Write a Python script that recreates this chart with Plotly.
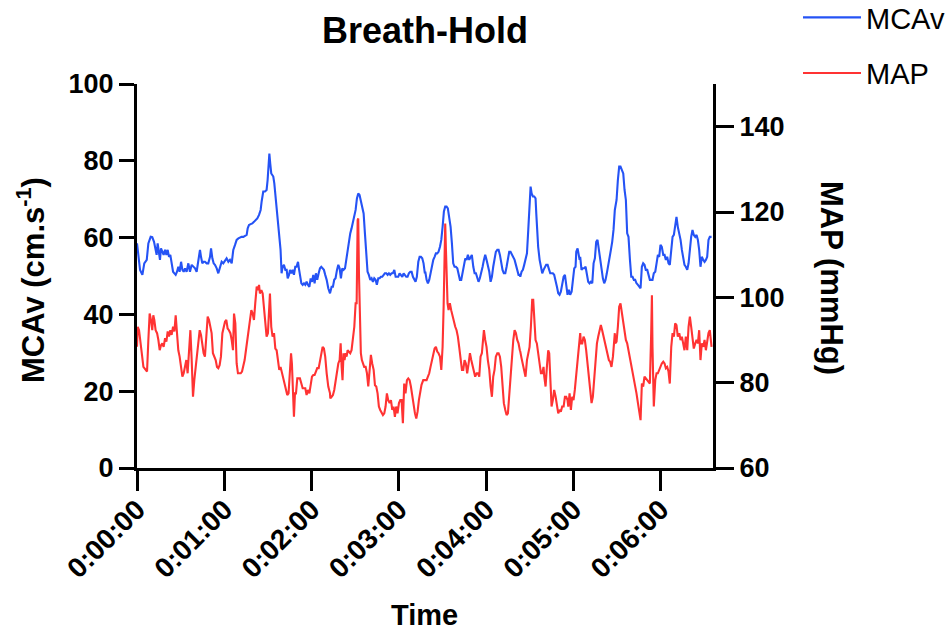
import plotly.graph_objects as go

# ---- data (time in seconds) ----
mcav_time = [0, 0.9, 2.1, 3.7, 5.0, 6.7, 7.8, 9.4, 10.5, 11.7, 12.8, 13.5, 14.2, 15.1, 15.8, 16.5, 17.4, 18.3, 19.3, 20.2,
             21.1, 22.0, 22.9, 23.8, 24.8, 25.7, 26.6, 27.5, 28.4, 29.3, 30.3, 31.2, 32.1, 33.0, 34.1, 35.3, 36.4, 37.6, 38.7, 39.9,
             41.0, 42.2, 43.3, 44.0, 44.9, 45.8, 46.7, 47.9, 49.0, 50.2, 50.9, 51.8, 52.7, 53.6, 54.8, 55.9, 57.1, 58.2, 59.3, 60.5,
             61.6, 62.8, 63.9, 65.1, 66.2, 67.4, 68.5, 69.7, 70.8, 71.9, 73.1, 74.2, 75.4, 76.1, 77.0, 78.1, 79.3, 80.4, 81.6, 82.7,
             83.9, 85.0, 85.7, 86.8, 88.0, 89.1, 89.8, 90.5, 91.0, 91.6, 92.3, 93.0, 93.7, 94.4, 95.1, 96.0, 96.9, 97.8, 98.7, 99.4,
             100.1, 101.0, 102.0, 102.9, 103.6, 104.5, 105.2, 106.1, 107.0, 107.9, 108.8, 109.7, 110.7, 111.3, 112.0, 113.0, 113.9, 114.8, 115.7, 116.6,
             117.5, 118.5, 119.4, 120.3, 121.2, 122.1, 123.0, 123.9, 124.9, 125.8, 126.7, 127.6, 128.5, 129.4, 130.4, 131.5, 132.7, 133.8, 134.7, 135.6,
             136.5, 137.5, 138.4, 139.3, 140.2, 141.1, 142.0, 143.0, 143.9, 144.8, 145.7, 146.6, 147.5, 148.4, 149.4, 150.3, 151.2, 152.1, 153.0, 153.9,
             154.9, 155.8, 156.7, 157.6, 158.5, 159.4, 160.4, 161.3, 162.2, 163.1, 164.0, 164.9, 165.9, 166.8, 167.7, 168.6, 169.5, 170.4, 171.4, 172.3,
             173.2, 174.1, 175.0, 175.9, 176.9, 177.8, 178.7, 179.6, 180.5, 181.4, 182.4, 183.3, 184.2, 185.1, 186.0, 186.9, 187.9, 188.8, 189.7, 190.6,
             191.5, 192.4, 193.4, 194.3, 195.2, 196.1, 197.0, 197.9, 198.2, 199.1, 200.0, 200.9, 201.8, 202.8, 203.7, 204.6, 205.5, 206.4, 207.3, 208.3,
             209.2, 210.1, 211.0, 211.9, 212.8, 213.7, 214.7, 215.6, 216.5, 217.4, 218.3, 219.2, 220.2, 221.1, 222.0, 222.9, 223.8, 224.7, 225.7, 226.6,
             227.5, 228.4, 229.3, 230.2, 231.2, 232.1, 233.0, 233.9, 234.8, 235.7, 236.7, 237.6, 238.5, 239.4, 240.3, 241.2, 242.2, 243.1, 244.0, 244.9,
             245.8, 246.7, 247.7, 248.6, 249.5, 250.4, 251.3, 252.2, 253.2, 254.1, 255.0, 255.9, 256.8, 257.7, 258.7, 259.6, 260.5, 261.4, 262.3, 263.2,
             263.5, 264.4, 265.3, 266.2, 267.1, 268.1, 269.0, 269.9, 270.6, 271.3, 272.2, 273.1, 274.0, 274.5, 274.9, 275.8, 276.8, 277.7, 278.6, 279.5,
             280.4, 281.3, 282.3, 283.2, 284.1, 285.0, 285.9, 286.8, 287.8, 288.7, 289.6, 290.5, 291.4, 292.3, 293.3, 294.2, 295.1, 296.0, 296.9, 297.8,
             298.8, 299.7, 300.6, 301.5, 302.0, 302.9, 303.8, 304.3, 304.7, 305.6, 306.5, 307.5, 308.4, 309.3, 310.2, 311.1, 312.0, 313.0, 313.9, 314.8,
             315.7, 316.6, 317.5, 318.5, 319.4, 320.3, 321.2, 322.1, 323.0, 324.0, 324.9, 325.8, 326.7, 327.6, 328.5, 329.7, 330.6, 331.5, 332.4, 333.4,
             334.3, 335.2, 336.1, 337.0, 337.9, 338.9, 339.8, 340.7, 341.6, 342.5, 343.4, 344.4, 345.3, 346.2, 347.1, 348.0, 348.9, 349.8, 350.8, 351.7,
             352.6, 353.5, 354.4, 355.3, 356.3, 357.2, 358.1, 359.0, 359.9, 360.8, 361.8, 362.7, 363.6, 364.5, 365.4, 366.3, 367.3, 368.2, 369.1, 370.0,
             370.9, 371.8, 372.8, 373.7, 374.6, 375.5, 376.4, 377.3, 378.3, 379.2, 380.1, 381.0, 381.9, 382.8, 383.8, 384.7, 385.6, 386.5, 387.4, 388.3,
             389.3, 390.2, 391.1, 392.0, 392.9, 393.8, 395.0]
mcav_values = [58.5, 55.9, 51.6, 50.3, 53.3, 54.2, 58.5, 60.2, 60.1, 58.9, 56.8, 55.5, 58.5, 55.9, 54.2, 57.2, 56.3, 55.5, 56.8, 55.5,
               56.8, 55.0, 55.5, 52.9, 51.1, 50.7, 50.3, 51.1, 52.4, 51.1, 53.7, 51.6, 51.1, 52.0, 51.1, 53.3, 51.1, 52.9, 52.4, 52.0,
               51.1, 54.2, 56.8, 55.0, 53.3, 53.7, 53.7, 53.3, 53.3, 55.0, 57.2, 54.6, 53.3, 52.9, 52.0, 50.7, 52.4, 53.7, 53.3, 54.2,
               54.6, 53.7, 54.2, 53.3, 56.8, 58.1, 59.4, 59.8, 60.0, 60.2, 60.2, 60.4, 60.7, 62.4, 63.3, 63.5, 63.7, 64.1, 64.6, 65.0,
               65.9, 67.2, 69.4, 72.0, 72.0, 72.4, 75.0, 79.3, 81.9, 79.3, 76.7, 76.3, 75.9, 74.1, 71.5, 67.6, 64.6, 60.7, 56.8, 50.7,
               52.4, 52.9, 51.6, 51.6, 49.4, 50.3, 51.6, 50.7, 51.6, 50.3, 52.4, 52.4, 53.7, 52.0, 50.7, 48.1, 47.7, 48.1, 47.7, 48.5,
               47.7, 47.2, 49.4, 48.5, 50.3, 48.1, 50.7, 49.0, 50.7, 52.0, 52.4, 52.0, 51.6, 50.3, 49.0, 46.8, 45.5, 47.2, 47.2, 49.0,
               49.4, 51.6, 52.9, 52.0, 49.4, 52.0, 51.6, 52.0, 54.2, 56.8, 59.4, 61.1, 62.4, 64.1, 65.4, 67.2, 70.2, 71.5, 71.1, 69.4,
               68.1, 66.3, 61.1, 55.0, 51.1, 50.3, 49.0, 49.4, 48.5, 49.4, 49.0, 47.7, 49.4, 49.4, 49.8, 49.8, 50.3, 50.7, 50.7, 50.3,
               50.7, 50.3, 50.7, 50.7, 51.6, 49.8, 49.8, 49.8, 50.7, 50.3, 49.8, 50.7, 50.3, 49.8, 49.8, 50.7, 51.1, 51.1, 49.8, 49.0,
               48.5, 49.8, 53.7, 55.0, 55.0, 54.6, 53.3, 50.7, 51.1, 49.0, 48.1, 49.0, 50.7, 53.3, 54.2, 55.0, 55.9, 55.9, 56.3, 57.6,
               59.4, 62.8, 66.8, 68.1, 68.1, 67.6, 64.6, 62.8, 58.5, 53.3, 52.4, 52.4, 52.0, 50.7, 49.0, 49.0, 50.7, 52.9, 54.6, 54.2,
               55.5, 54.2, 55.0, 55.5, 52.4, 50.7, 50.7, 49.8, 48.5, 49.4, 50.7, 52.4, 54.2, 55.5, 54.2, 52.9, 51.1, 48.5, 49.8, 52.4,
               55.0, 56.3, 56.8, 56.8, 55.5, 53.3, 51.6, 50.7, 50.7, 52.4, 55.0, 56.3, 56.3, 55.5, 55.0, 54.2, 52.9, 51.1, 50.3, 50.3,
               49.8, 51.1, 51.6, 52.9, 54.2, 55.9, 62.0, 69.8, 73.3, 71.5, 70.7, 70.7, 70.2, 66.3, 62.8, 57.6, 54.2, 52.4, 50.7, 51.6,
               52.4, 52.9, 52.9, 52.0, 50.7, 50.7, 50.7, 50.3, 49.0, 47.2, 45.5, 45.1, 45.9, 48.1, 49.8, 50.3, 48.1, 45.1, 46.4, 45.1,
               45.9, 49.0, 52.0, 52.4, 56.3, 57.2, 55.0, 54.2, 55.0, 51.6, 52.0, 52.0, 52.4, 49.8, 48.5, 48.1, 48.5, 48.1, 53.3, 54.6,
               58.9, 59.4, 56.8, 54.2, 52.4, 49.4, 48.1, 49.0, 50.7, 53.3, 55.0, 56.8, 58.9, 62.0, 67.2, 69.8, 75.0, 78.5, 78.5, 77.6,
               76.7, 72.4, 69.8, 61.1, 60.2, 54.2, 49.8, 49.8, 49.0, 49.0, 48.1, 47.7, 47.2, 46.8, 52.4, 53.3, 52.9, 51.6, 51.6, 49.8,
               49.0, 49.0, 49.0, 50.7, 51.1, 53.3, 55.5, 55.0, 58.1, 57.6, 55.5, 55.5, 54.2, 55.0, 53.3, 52.9, 57.6, 60.2, 60.7, 62.8,
               65.4, 62.8, 61.1, 59.4, 56.8, 54.2, 52.9, 52.4, 51.6, 53.3, 57.6, 60.2, 62.0, 60.7, 60.2, 60.7, 59.4, 56.8, 52.4, 55.0,
               54.2, 53.7, 54.2, 55.0, 59.4, 60.2, 60.2]

map_time = [0, 0.5, 1.4, 2.8, 4.4, 6.0, 6.9, 7.8, 8.7, 9.6, 10.5, 11.2, 11.9, 12.8, 13.8, 14.7, 15.6, 16.5, 17.4, 18.3,
            19.3, 20.2, 21.1, 22.0, 22.9, 23.8, 24.8, 25.7, 26.6, 27.5, 28.4, 29.3, 30.3, 31.2, 32.1, 33.0, 33.9, 34.8, 35.7, 36.7,
            37.6, 38.5, 39.4, 40.3, 41.2, 42.2, 43.1, 44.0, 44.9, 45.8, 46.7, 47.7, 48.6, 49.5, 50.4, 51.3, 52.2, 53.2, 54.1, 55.0,
            55.9, 56.8, 57.7, 58.7, 59.6, 60.5, 61.4, 62.3, 63.2, 64.2, 65.1, 66.0, 66.7, 67.6, 68.5, 69.4, 70.3, 71.3, 72.2, 73.1,
            74.0, 74.9, 75.8, 76.8, 77.7, 78.6, 79.5, 80.4, 81.3, 82.3, 83.2, 83.9, 84.5, 85.5, 86.4, 87.3, 88.2, 89.1, 90.0, 91.0,
            91.4, 92.3, 93.2, 94.2, 95.1, 96.0, 96.9, 97.8, 98.7, 99.7, 100.6, 101.5, 102.4, 103.3, 104.2, 105.2, 105.9, 106.5, 107.2, 107.9,
            108.6, 109.3, 110.2, 111.1, 112.0, 113.0, 113.9, 114.8, 115.7, 116.6, 117.5, 118.5, 119.4, 120.3, 121.2, 122.1, 123.0, 123.9, 124.9, 125.8,
            126.7, 127.6, 128.5, 129.4, 130.4, 131.5, 132.7, 132.9, 133.8, 134.7, 135.6, 136.5, 137.5, 138.4, 139.3, 140.0, 140.7, 141.3, 142.0, 142.7,
            143.4, 144.1, 144.8, 145.7, 146.6, 147.5, 148.4, 149.4, 150.3, 151.0, 151.7, 152.1, 152.6, 153.3, 153.9, 154.6, 155.3, 156.2, 157.2, 158.1,
            159.0, 159.9, 160.8, 161.7, 162.7, 163.6, 164.5, 165.4, 166.3, 167.2, 168.2, 169.1, 170.0, 170.9, 171.8, 172.7, 173.7, 174.6, 175.5, 176.4,
            177.3, 178.2, 179.1, 180.1, 181.0, 181.9, 182.8, 183.7, 184.6, 185.6, 186.5, 187.4, 188.3, 189.2, 190.1, 191.1, 192.0, 192.9, 193.8, 194.7,
            195.6, 196.8, 197.9, 198.2, 199.1, 200.0, 200.9, 201.8, 202.8, 203.7, 204.6, 205.5, 206.4, 207.3, 208.3, 209.2, 210.1, 210.8, 211.5, 211.9,
            212.4, 212.8, 213.5, 214.2, 215.1, 216.0, 217.0, 217.9, 218.8, 219.7, 220.6, 221.5, 222.5, 223.4, 224.3, 225.2, 226.1, 227.0, 228.0, 228.9,
            229.8, 230.7, 231.6, 232.5, 233.5, 234.4, 235.3, 236.2, 237.1, 237.6, 238.5, 239.4, 240.3, 241.2, 242.2, 243.1, 244.0, 244.9, 245.8, 246.7,
            247.7, 248.6, 249.5, 250.4, 251.3, 252.2, 253.2, 254.1, 255.0, 255.9, 256.8, 257.7, 258.7, 259.6, 260.5, 261.4, 262.3, 263.2, 263.5, 264.4,
            265.3, 266.2, 267.1, 268.1, 269.0, 269.9, 270.8, 271.7, 272.4, 273.1, 274.0, 274.9, 275.8, 276.8, 277.7, 278.6, 279.5, 280.0, 280.9, 281.8,
            282.7, 283.4, 284.1, 285.0, 285.9, 286.8, 287.8, 288.7, 289.6, 290.5, 291.4, 292.3, 293.3, 294.2, 295.1, 296.0, 296.5, 297.4, 298.3, 299.2,
            300.1, 301.0, 302.0, 302.9, 303.8, 304.7, 305.2, 306.1, 307.0, 307.9, 308.8, 309.7, 310.7, 311.6, 312.5, 313.4, 314.3, 315.2, 316.2, 317.1,
            318.0, 318.9, 319.8, 320.7, 321.7, 322.6, 323.5, 324.4, 325.3, 326.2, 327.2, 328.1, 328.5, 328.8, 329.7, 330.6, 331.5, 332.4, 333.4, 334.3,
            335.2, 336.1, 337.0, 337.9, 338.9, 339.8, 340.7, 341.6, 342.5, 343.4, 344.4, 345.3, 346.2, 347.1, 348.0, 348.9, 349.8, 350.8, 351.7, 352.6,
            353.5, 354.0, 354.4, 355.3, 356.3, 357.2, 358.1, 359.0, 359.9, 360.8, 361.8, 362.7, 363.6, 364.5, 365.4, 366.3, 367.3, 368.2, 369.1, 370.0,
            370.9, 371.8, 372.8, 373.7, 374.6, 375.5, 376.4, 377.3, 378.3, 379.2, 380.1, 381.0, 381.9, 382.8, 383.8, 384.7, 385.6, 386.5, 387.4, 388.3,
            389.3, 390.2, 391.1, 392.0, 392.9, 393.8, 395.0]
map_values = [88.4, 93.1, 92.3, 88.4, 83.7, 83.0, 82.6, 90.0, 96.2, 94.7, 92.3, 95.8, 94.7, 92.3, 91.6, 90.0, 87.6, 88.8, 89.2, 88.4,
              90.4, 89.6, 92.0, 90.8, 92.3, 91.2, 93.1, 92.0, 95.8, 91.6, 87.6, 86.1, 83.0, 81.4, 82.2, 83.7, 85.3, 82.2, 87.6, 92.3,
              85.3, 76.7, 80.6, 83.7, 86.1, 90.0, 92.3, 91.2, 88.4, 86.9, 86.1, 92.3, 95.5, 94.7, 93.1, 91.6, 86.9, 86.1, 85.3, 83.7,
              83.4, 84.1, 86.1, 91.6, 93.1, 94.3, 94.7, 92.7, 92.3, 91.6, 90.0, 87.6, 96.2, 93.9, 84.5, 82.2, 82.2, 82.2, 82.6, 83.7,
              85.3, 87.6, 90.0, 93.1, 95.5, 97.0, 96.2, 94.7, 98.6, 102.5, 101.7, 102.9, 100.9, 101.7, 100.9, 97.8, 93.1, 90.8, 91.6, 99.4,
              100.9, 93.1, 90.8, 91.6, 88.0, 87.6, 85.3, 83.0, 83.7, 82.2, 81.4, 79.8, 78.3, 77.1, 77.5, 82.2, 86.9, 84.5, 75.9, 72.0,
              77.5, 77.5, 81.0, 81.0, 81.0, 79.8, 78.7, 78.7, 78.7, 77.1, 78.3, 77.5, 79.8, 81.4, 81.8, 81.8, 82.6, 83.4, 83.4, 85.3,
              86.9, 88.4, 88.0, 86.1, 82.2, 79.1, 77.5, 76.3, 76.7, 77.1, 78.3, 80.6, 83.0, 84.5, 85.3, 89.2, 83.7, 80.6, 86.9, 85.3,
              86.9, 86.1, 87.6, 87.3, 86.9, 87.6, 90.0, 93.1, 98.6, 98.6, 118.1, 118.5, 105.6, 91.6, 86.9, 85.3, 84.5, 83.7, 83.7, 82.2,
              79.1, 82.2, 86.5, 84.5, 83.0, 79.4, 79.1, 77.5, 74.4, 73.6, 72.8, 72.4, 72.8, 74.4, 77.5, 75.9, 75.2, 75.9, 73.6, 74.4,
              72.0, 74.4, 72.8, 75.2, 75.9, 75.9, 70.5, 79.8, 77.5, 80.6, 81.0, 80.6, 79.1, 76.7, 75.2, 72.8, 71.6, 73.2, 75.9, 77.5,
              79.5, 80.6, 80.6, 80.6, 80.6, 81.4, 82.2, 83.7, 85.3, 86.9, 88.0, 88.4, 87.3, 86.9, 86.1, 83.0, 88.4, 97.8, 109.5, 117.3,
              111.1, 103.3, 98.6, 97.0, 98.6, 97.0, 95.5, 94.7, 93.1, 92.3, 90.8, 88.4, 86.1, 83.0, 83.0, 85.3, 84.5, 82.2, 84.5, 86.9,
              85.3, 83.7, 82.2, 81.4, 82.2, 82.2, 81.4, 86.1, 86.9, 88.4, 92.3, 90.0, 88.4, 85.3, 83.0, 79.1, 76.7, 81.4, 83.0, 86.1,
              86.9, 86.9, 86.1, 83.7, 79.1, 75.2, 73.6, 72.4, 72.8, 77.5, 82.2, 86.9, 90.0, 92.3, 91.6, 90.0, 89.2, 87.6, 87.3, 85.7,
              84.5, 83.0, 81.4, 85.3, 86.9, 88.4, 93.1, 99.4, 99.4, 94.7, 90.0, 89.2, 86.9, 84.5, 82.2, 82.2, 83.7, 81.4, 79.1, 83.7,
              87.6, 86.9, 80.6, 74.4, 75.9, 78.3, 76.7, 74.4, 72.8, 73.6, 73.2, 74.4, 74.4, 76.7, 76.7, 75.9, 74.4, 77.5, 73.6, 76.7,
              75.9, 78.3, 82.2, 85.3, 88.4, 91.6, 89.2, 89.2, 90.8, 90.0, 87.6, 84.5, 80.6, 77.5, 75.2, 76.7, 80.6, 85.3, 89.2, 90.8,
              92.3, 93.5, 92.3, 90.8, 89.2, 87.6, 86.5, 85.3, 84.9, 83.7, 86.1, 90.0, 91.6, 89.2, 89.6, 93.1, 97.8, 98.6, 96.2, 93.1,
              91.6, 90.0, 89.2, 87.6, 86.1, 83.7, 83.0, 80.6, 79.1, 77.5, 75.2, 73.2, 71.2, 79.8, 79.1, 81.4, 81.0, 80.6, 80.2, 79.8,
              91.6, 100.5, 88.4, 74.4, 80.6, 82.2, 82.2, 83.0, 83.7, 84.5, 84.9, 84.5, 83.4, 83.7, 82.6, 79.8, 88.4, 91.6, 90.8, 93.9,
              93.5, 90.8, 91.6, 90.0, 90.8, 89.2, 87.6, 90.8, 87.6, 93.1, 95.5, 93.1, 90.0, 88.0, 89.2, 90.0, 89.2, 92.3, 85.3, 89.2,
              88.4, 90.0, 87.6, 90.0, 91.6, 92.3, 88.4]

x_tick_vals = [0, 60, 120, 180, 240, 300, 360]
x_tick_text = ["0:00:00", "0:01:00", "0:02:00", "0:03:00", "0:04:00", "0:05:00", "0:06:00"]
y1_ticks = [0, 20, 40, 60, 80, 100]
y2_ticks = [60, 80, 100, 120, 140]

FONT = "Liberation Sans, Arial, sans-serif"
BLUE = "#2553f5"
RED = "#ff3333"

fig = go.Figure()
fig.add_trace(go.Scatter(x=mcav_time, y=mcav_values, mode="lines", name="MCAv",
                         line=dict(color=BLUE, width=2.1), legendgroup="a", yaxis="y"))
fig.add_trace(go.Scatter(x=map_time, y=map_values, mode="lines", name="MAP",
                         line=dict(color=RED, width=2.1), legendgroup="b", yaxis="y2"))

tickfont = dict(family=FONT, size=27, color="black", weight="bold")
xtickfont = dict(family=FONT, size=28, color="black", weight="bold")
fig.update_layout(
    width=952, height=634,
    margin=dict(l=137, r=239, t=84, b=166, autoexpand=False),
    paper_bgcolor="white", plot_bgcolor="white",
    font=dict(family=FONT, color="black"),
    title=dict(text="<b>Breath-Hold</b>", x=(137 + 713) / 2 / 952, xanchor="center",
               y=1 - 30 / 634, yanchor="middle", font=dict(size=36, family=FONT, color="black")),
    xaxis=dict(range=[0, 396], tickvals=x_tick_vals, ticktext=x_tick_text, tickangle=-45,
               showline=True, linecolor="black", linewidth=3, ticks="outside", ticklen=20,
               tickwidth=3, tickcolor="black", showgrid=False, zeroline=False, tickfont=xtickfont,
               ticklabelstandoff=-9),
    yaxis=dict(range=[0, 100], tickvals=y1_ticks, showline=True, linecolor="black", linewidth=3,
               ticks="outside", ticklen=15, tickwidth=3, tickcolor="black", showgrid=False,
               zeroline=False, tickfont=tickfont),
    yaxis2=dict(range=[60, 150], tickvals=y2_ticks, overlaying="y", side="right",
                showline=True, linecolor="black", linewidth=3, ticks="outside", ticklen=18,
                tickwidth=3, tickcolor="black", showgrid=False, zeroline=False, tickfont=tickfont),
    legend=dict(x=(798 - 137) / 576, y=(468 + 8) / 384,
                xanchor="left", yanchor="top",
                font=dict(family=FONT, size=29, color="black"), itemwidth=58,
                tracegroupgap=15, traceorder="grouped", bgcolor="rgba(0,0,0,0)"),
    showlegend=True,
)

fig.add_annotation(text="<b>MCAv (cm.s<sup>-1</sup>)</b>", xref="paper", yref="paper",
                   x=(31 - 137) / 576, y=(468 - 280) / 384, textangle=-90, showarrow=False,
                   xanchor="center", yanchor="middle", font=dict(family=FONT, size=31, color="black"))
fig.add_annotation(text="<b>MAP (mmHg)</b>", xref="paper", yref="paper",
                   x=(832 - 137) / 576, y=(468 - 278) / 384, textangle=90, showarrow=False,
                   xanchor="center", yanchor="middle", font=dict(family=FONT, size=31, color="black"))
fig.add_annotation(text="<b>Time</b>", xref="paper", yref="paper",
                   x=(424 - 137) / 576, y=(468 - 615) / 384, showarrow=False,
                   xanchor="center", yanchor="middle", font=dict(family=FONT, size=29, color="black"))

fig.write_html("out.html")
